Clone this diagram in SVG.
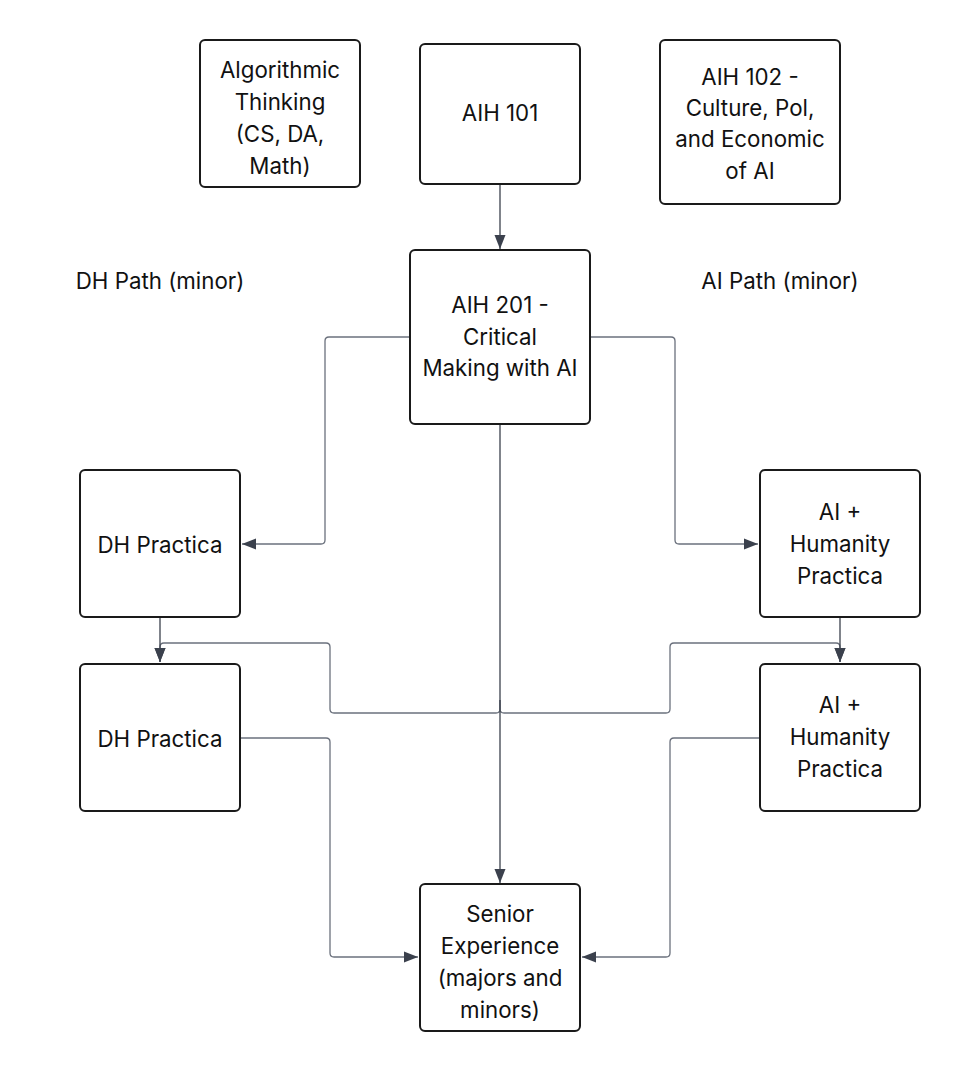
<svg xmlns="http://www.w3.org/2000/svg" width="960" height="1072" viewBox="0 0 960 1072">
<defs>
<style>
.box{fill:#ffffff;stroke:#1a1a1a;stroke-width:2}
.t{font-family:Inter,"Noto Sans","Liberation Sans",sans-serif;font-size:22.3px;fill:#111111;text-anchor:middle}
.g{fill:none;stroke:#6b717d;stroke-width:1.3}
.d{fill:none;stroke:#3b414d;stroke-width:1.3}
</style>
<marker id="ah" markerUnits="userSpaceOnUse" markerWidth="15" markerHeight="12" viewBox="0 0 15 12" refX="14" refY="6" orient="auto">
<path d="M0,0.5 L14,6 L0,11.5 z" fill="#3b414d"/>
</marker>
</defs>
<rect width="960" height="1072" fill="#ffffff"/>
<g id="connectors">
<path class="g" d="M410,337 H329 Q325,337 325,341 V540 Q325,544 321,544 H242" marker-end="url(#ah)"/>
<path class="g" d="M590,337 H671 Q675,337 675,341 V540 Q675,544 679,544 H758" marker-end="url(#ah)"/>
<path class="g" d="M500,700 V709 Q500,713 496,713 H334 Q330,713 330,709 V647 Q330,643 326,643 H164 Q160,643 160,647 V662" marker-end="url(#ah)"/>
<path class="g" d="M500,700 V709 Q500,713 504,713 H666 Q670,713 670,709 V647 Q670,643 674,643 H836 Q840,643 840,647 V662" marker-end="url(#ah)"/>
<path class="g" d="M240,738 H326 Q330,738 330,742 V953 Q330,957 334,957 H418" marker-end="url(#ah)"/>
<path class="g" d="M760,738 H674 Q670,738 670,742 V953 Q670,957 666,957 H582" marker-end="url(#ah)"/>
<path class="d" d="M500,184 V249" marker-end="url(#ah)"/>
<path class="d" d="M500,424 V883" marker-end="url(#ah)"/>
<path class="d" d="M160,617 V662" marker-end="url(#ah)"/>
<path class="d" d="M840,617 V662" marker-end="url(#ah)"/>
</g>
<g id="algorithmic-thinking">
<rect class="box" x="200" y="40" width="160" height="147" rx="5"/>
<text class="t" x="280" y="78">Algorithmic</text>
<text class="t" x="280" y="110">Thinking</text>
<text class="t" x="280" y="142">(CS, DA,</text>
<text class="t" x="280" y="174">Math)</text>
</g>
<g id="aih101">
<rect class="box" x="420" y="44" width="160" height="140" rx="5"/>
<text class="t" x="500" y="121">AIH 101</text>
</g>
<g id="aih102">
<rect class="box" x="660" y="40" width="180" height="164" rx="5"/>
<text class="t" x="750" y="85">AIH 102 -</text>
<text class="t" x="750" y="116">Culture, Pol,</text>
<text class="t" x="750" y="147">and Economic</text>
<text class="t" x="750" y="179">of AI</text>
</g>
<g id="dh-path-label">
<text class="t" x="160" y="289">DH Path (minor)</text>
</g>
<g id="ai-path-label">
<text class="t" x="780" y="289">AI Path (minor)</text>
</g>
<g id="aih201">
<rect class="box" x="410" y="250" width="180" height="174" rx="5"/>
<text class="t" x="500" y="313">AIH 201 -</text>
<text class="t" x="500" y="345">Critical</text>
<text class="t" x="500" y="376">Making with AI</text>
</g>
<g id="dh-practica-1">
<rect class="box" x="80" y="470" width="160" height="147" rx="5"/>
<text class="t" x="160" y="553">DH Practica</text>
</g>
<g id="ai-practica-1">
<rect class="box" x="760" y="470" width="160" height="147" rx="5"/>
<text class="t" x="840" y="520">AI +</text>
<text class="t" x="840" y="552">Humanity</text>
<text class="t" x="840" y="584">Practica</text>
</g>
<g id="dh-practica-2">
<rect class="box" x="80" y="664" width="160" height="147" rx="5"/>
<text class="t" x="160" y="747">DH Practica</text>
</g>
<g id="ai-practica-2">
<rect class="box" x="760" y="664" width="160" height="147" rx="5"/>
<text class="t" x="840" y="713">AI +</text>
<text class="t" x="840" y="745">Humanity</text>
<text class="t" x="840" y="777">Practica</text>
</g>
<g id="senior-experience">
<rect class="box" x="420" y="884" width="160" height="147" rx="5"/>
<text class="t" x="500" y="922">Senior</text>
<text class="t" x="500" y="954">Experience</text>
<text class="t" x="500" y="986">(majors and</text>
<text class="t" x="500" y="1018">minors)</text>
</g>
</svg>
